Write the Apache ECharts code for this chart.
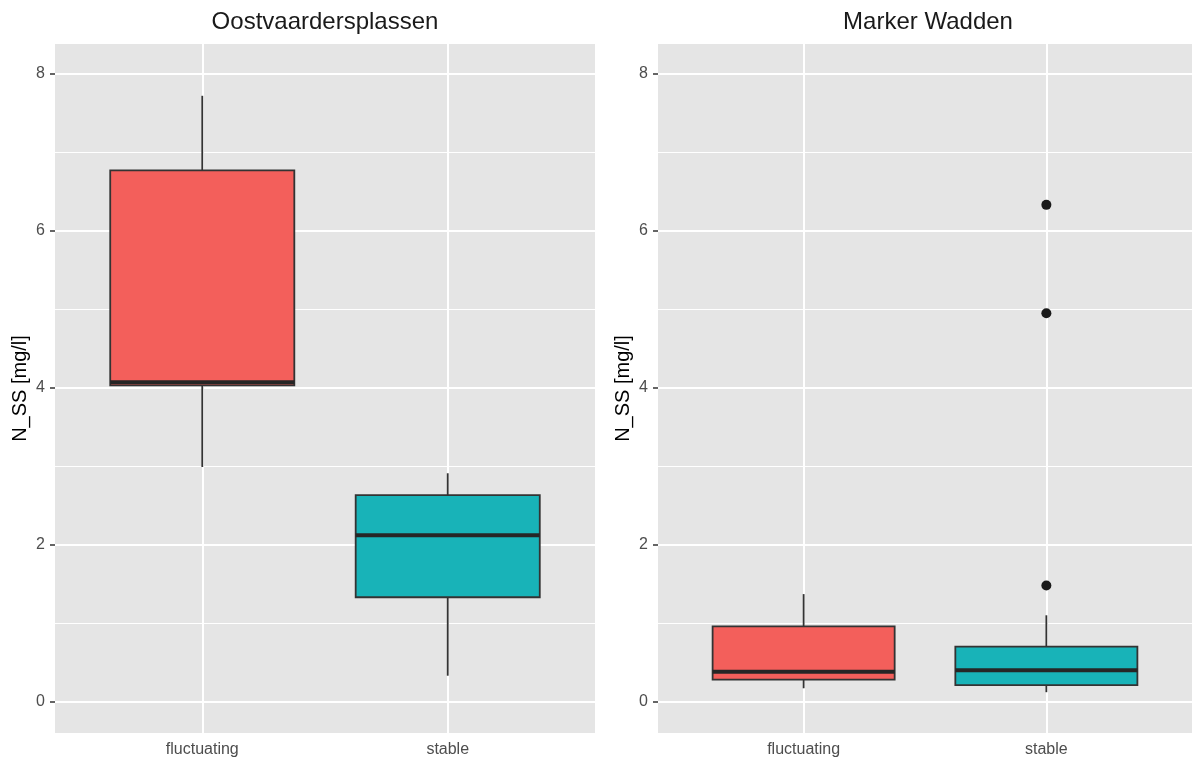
<!DOCTYPE html>
<html>
<head>
<meta charset="utf-8">
<script src="https://cdn.jsdelivr.net/npm/echarts@6/dist/echarts.min.js"></script>
<style>
  html, body { margin: 0; padding: 0; background: #ffffff; }
  #chart { width: 1192px; height: 765px; }
</style>
</head>
<body>
<div id="chart"></div>
<script>
// ---- data ----
const categories = ['fluctuating', 'stable'];
const panels = ['Oostvaardersplassen', 'Marker Wadden'];
const yTicks = [0, 2, 4, 6, 8];
const yMinor = [1, 3, 5, 7];
const yTitle = 'N_SS [mg/l]';
// [min, Q1, median, Q3, max] per category
const ovpFluctuating = [2.99, 4.03, 4.07, 6.77, 7.72];
const ovpStable = [0.33, 1.33, 2.12, 2.63, 2.91];
const mwFluctuating = [0.17, 0.28, 0.38, 0.96, 1.37];
const mwStable = [0.12, 0.21, 0.40, 0.70, 1.10];
// outliers: [category index (1-based), value]
const mwOutliers = [[2, 6.33], [2, 4.95], [2, 1.48]];
const ovpOutliers = [];
const fillColors = ['#F35F5B', '#18B3B8'];

const FONT = '"Liberation Sans", Arial, Helvetica, sans-serif';
const chart = echarts.init(document.getElementById('chart'), null, { renderer: 'canvas' });

const gridLefts = [55, 658];
const gridWidth = 540;

function boxRender(params, api) {
  const x = api.value(0);
  const mn = api.coord([x, api.value(1)]);
  const q1 = api.coord([x, api.value(2)]);
  const md = api.coord([x, api.value(3)]);
  const q3 = api.coord([x, api.value(4)]);
  const mx = api.coord([x, api.value(5)]);
  const halfW = api.size([0.75, 0])[0] / 2;
  const cx = mn[0];
  const color = fillColors[x - 1];
  const stroke = '#333333';
  return {
    type: 'group',
    children: [
      { type: 'line', shape: { x1: cx, y1: q3[1], x2: cx, y2: mx[1] }, style: { stroke: stroke, lineWidth: 1.8 } },
      { type: 'line', shape: { x1: cx, y1: q1[1], x2: cx, y2: mn[1] }, style: { stroke: stroke, lineWidth: 1.8 } },
      { type: 'rect', shape: { x: cx - halfW, y: q3[1], width: halfW * 2, height: q1[1] - q3[1] },
        style: { fill: color, stroke: stroke, lineWidth: 1.8 } },
      { type: 'line', shape: { x1: cx - halfW, y1: md[1], x2: cx + halfW, y2: md[1] }, style: { stroke: '#262626', lineWidth: 4 } }
    ]
  };
}

function gridLines() {
  const d = [];
  yTicks.forEach(v => d.push({ yAxis: v, lineStyle: { width: 2 } }));
  yMinor.forEach(v => d.push({ yAxis: v, lineStyle: { width: 1 } }));
  [1, 2].forEach(v => d.push({ xAxis: v, lineStyle: { width: 2 } }));
  return {
    silent: true, z: 1, symbol: ['none', 'none'], label: { show: false },
    lineStyle: { color: '#ffffff', type: 'solid' }, animation: false,
    emphasis: { disabled: true }, data: d
  };
}

const boxData = [
  [[1, ...ovpFluctuating], [2, ...ovpStable]],
  [[1, ...mwFluctuating], [2, ...mwStable]]
];
const outlierData = [ovpOutliers, mwOutliers];

const option = {
  animation: false,
  backgroundColor: '#ffffff',
  title: panels.map((t, i) => ({
    text: t, left: gridLefts[i] + gridWidth / 2, top: 10, textAlign: 'center', padding: 0,
    textStyle: { fontSize: 24, fontWeight: 'normal', color: '#1a1a1a', fontFamily: FONT }
  })),
  grid: gridLefts.map(l => ({
    left: l, top: 44, width: gridWidth, height: 689, show: true,
    backgroundColor: '#E5E5E5', borderWidth: 0, containLabel: false
  })),
  xAxis: gridLefts.map((l, i) => ({
    type: 'value', gridIndex: i, min: 0.4, max: 2.6,
    splitLine: { show: false }, axisLine: { show: false },
    axisTick: { show: true, customValues: [1, 2], length: 5, lineStyle: { color: '#333333', width: 1.5 } },
    axisLabel: { customValues: [1, 2], formatter: v => categories[Math.round(v) - 1], fontSize: 16,
      color: '#4d4d4d', margin: 9, fontFamily: FONT }
  })),
  yAxis: gridLefts.map((l, i) => ({
    type: 'value', gridIndex: i, min: -0.4, max: 8.38,
    name: yTitle, nameLocation: 'middle', nameGap: 25, nameRotate: 90,
    nameTextStyle: { fontSize: 20, color: '#000000', fontFamily: FONT },
    splitLine: { show: false }, axisLine: { show: false },
    axisTick: { show: true, customValues: yTicks, length: 5, lineStyle: { color: '#333333', width: 1.5 } },
    axisLabel: { customValues: yTicks, fontSize: 16, color: '#4d4d4d', margin: 10, fontFamily: FONT }
  })),
  series: [0, 1].flatMap(i => [
    {
      type: 'custom', xAxisIndex: i, yAxisIndex: i, z: 3,
      renderItem: boxRender, data: boxData[i],
      encode: { x: 0, y: [1, 2, 3, 4, 5] },
      markLine: gridLines()
    },
    {
      type: 'scatter', xAxisIndex: i, yAxisIndex: i, z: 4,
      data: outlierData[i], symbolSize: 10,
      itemStyle: { color: '#1a1a1a', opacity: 1 }
    }
  ])
};
chart.setOption(option);
</script>
</body>
</html>
